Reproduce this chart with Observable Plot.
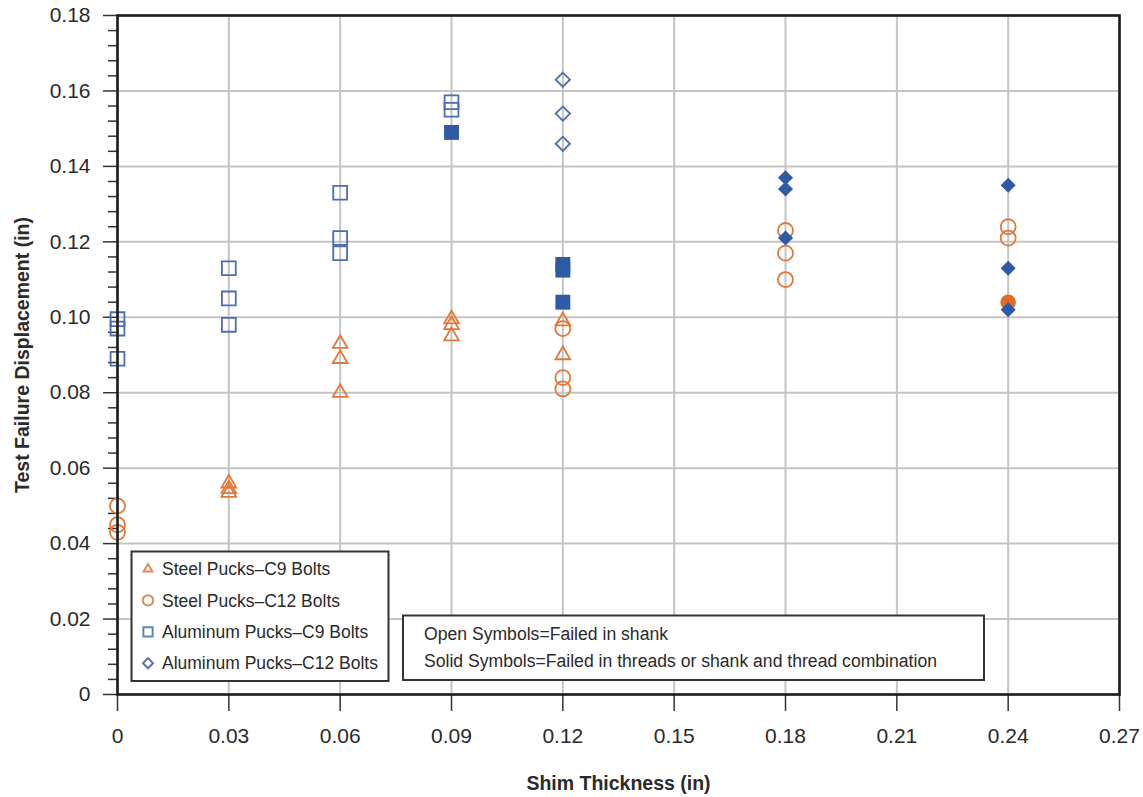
<!DOCTYPE html>
<html><head><meta charset="utf-8">
<script src="https://cdn.jsdelivr.net/npm/d3@7"></script>
<script src="https://cdn.jsdelivr.net/npm/@observablehq/plot@0.6"></script>
<style>body{margin:0;background:#fff;}</style>
</head><body><div id="chart"></div>
<script>
// ---- tick values & labels ----
const xTicks = [0, 0.03, 0.06, 0.09, 0.12, 0.15, 0.18, 0.21, 0.24, 0.27];
const xTickLabels = ["0", "0.03", "0.06", "0.09", "0.12", "0.15", "0.18", "0.21", "0.24", "0.27"];
const yTicks = [0, 0.02, 0.04, 0.06, 0.08, 0.10, 0.12, 0.14, 0.16, 0.18];
const yTickLabels = ["0", "0.02", "0.04", "0.06", "0.08", "0.10", "0.12", "0.14", "0.16", "0.18"];
const yMinorPerMajor = 5;

// ---- series (rows: [shim thickness, displacement, solid?]) ----
const seriesNames = ["Steel Pucks\u2013C9 Bolts", "Steel Pucks\u2013C12 Bolts", "Aluminum Pucks\u2013C9 Bolts", "Aluminum Pucks\u2013C12 Bolts"];
const steelC9 = [
  [0.03, 0.056, 0], [0.03, 0.0545, 0], [0.03, 0.0535, 0],
  [0.06, 0.093, 0], [0.06, 0.089, 0], [0.06, 0.080, 0],
  [0.09, 0.0995, 0], [0.09, 0.098, 0], [0.09, 0.095, 0],
  [0.12, 0.099, 0], [0.12, 0.090, 0]
];
const steelC12 = [
  [0, 0.050, 0], [0, 0.045, 0], [0, 0.043, 0],
  [0.12, 0.097, 0], [0.12, 0.084, 0], [0.12, 0.081, 0],
  [0.18, 0.123, 0], [0.18, 0.117, 0], [0.18, 0.110, 0],
  [0.24, 0.124, 0], [0.24, 0.121, 0], [0.24, 0.104, 1]
];
const aluminumC9 = [
  [0, 0.0995, 0], [0, 0.097, 0], [0, 0.089, 0],
  [0.03, 0.113, 0], [0.03, 0.105, 0], [0.03, 0.098, 0],
  [0.06, 0.133, 0], [0.06, 0.121, 0], [0.06, 0.117, 0],
  [0.09, 0.157, 0], [0.09, 0.155, 0], [0.09, 0.149, 1],
  [0.12, 0.114, 1], [0.12, 0.1125, 1], [0.12, 0.104, 1]
];
const aluminumC12 = [
  [0.12, 0.163, 0], [0.12, 0.154, 0], [0.12, 0.146, 0],
  [0.18, 0.137, 1], [0.18, 0.134, 1], [0.18, 0.121, 1],
  [0.24, 0.135, 1], [0.24, 0.113, 1], [0.24, 0.102, 1]
];
const noteLines = ["Open Symbols=Failed in shank", "Solid Symbols=Failed in threads or shank and thread combination"];

// ---- styles ----
const ORANGE_OPEN = "#E2773A", ORANGE_SOLID = "#E06B27";
const BLUE_OPEN = "#4A6DB3", BLUE_SOLID = "#2F5AA6";
const styles = [
  {data: steelC9, open: "triangle2", solid: "triangle", rOpen: 7, rSolid: 7, so: ORANGE_OPEN, sf: ORANGE_SOLID},
  {data: steelC12, open: "circle", solid: "circle", rOpen: 7.5, rSolid: 7.8, so: ORANGE_OPEN, sf: ORANGE_SOLID},
  {data: aluminumC9, open: "square2", solid: "square", rOpen: 8.8, rSolid: 8.4, so: BLUE_OPEN, sf: BLUE_SOLID},
  {data: aluminumC12, open: "diamond2", solid: "diamond2", rOpen: 6.4, rSolid: 6.8, so: BLUE_OPEN, sf: BLUE_SOLID}
];

const yMinor = [];
for (let i = 0; i < yTicks.length - 1; i++) {
  const a = yTicks[i], b = yTicks[i + 1];
  for (let k = 1; k < yMinorPerMajor; k++) yMinor.push(a + (b - a) * k / yMinorPerMajor);
}

const dotMarks = [];
styles.forEach(s => {
  const rows = s.data.map(([x, y, solid]) => ({x, y, solid}));
  dotMarks.push(Plot.dot(rows.filter(d => !d.solid), {x: "x", y: "y", symbol: s.open, r: s.rOpen, fill: "none", stroke: s.so, strokeWidth: 1.8}));
  dotMarks.push(Plot.dot(rows.filter(d => d.solid), {x: "x", y: "y", symbol: s.solid, r: s.rSolid, fill: s.sf, stroke: "none"}));
});

const FONT = "'Liberation Sans', Arial, Helvetica, sans-serif";
const chart = Plot.plot({
  width: 1143,
  height: 797,
  marginLeft: 117,
  marginRight: 24,
  marginTop: 15,
  marginBottom: 103,
  style: {fontFamily: FONT, background: "#fff", color: "#2a2a2a"},
  x: {domain: [0, 0.27]},
  y: {domain: [0, 0.18]},
  marks: [
    Plot.gridX(xTicks, {stroke: "#c4c4c4", strokeWidth: 2, strokeOpacity: 1}),
    Plot.gridY(yTicks, {stroke: "#c4c4c4", strokeWidth: 2, strokeOpacity: 1}),
    Plot.axisX(xTicks, {tickSize: 17, tickPadding: 17, fontSize: 21, stroke: "#333", strokeWidth: 1.5, fill: "#2a2a2a",
      tickFormat: d => xTickLabels[xTicks.indexOf(d)], label: null}),
    Plot.axisY(yTicks, {tickSize: 14, tickPadding: 13, fontSize: 21, stroke: "#333", strokeWidth: 1.5, fill: "#2a2a2a",
      tickFormat: d => yTickLabels[yTicks.indexOf(d)], label: null}),
    Plot.axisY(yMinor, {tickSize: 9, tickFormat: () => "", stroke: "#333", strokeWidth: 1.5, label: null}),
    ...dotMarks,
    Plot.frame({stroke: "#1c1c1c", strokeWidth: 2.6}),
    Plot.text(["Shim Thickness (in)"], {frameAnchor: "bottom", dy: 89, lineAnchor: "middle", textAnchor: "middle", fontSize: 19.5, fontWeight: "bold", fill: "#2a2a2a"}),
    Plot.text(["Test Failure Displacement (in)"], {frameAnchor: "left", dx: -95, rotate: -90, lineAnchor: "middle", textAnchor: "middle", fontSize: 19.5, fontWeight: "bold", fill: "#2a2a2a"})
  ]
});
document.getElementById("chart").appendChild(chart);

// ---- legend & note boxes ----
const svg = d3.select(chart);
const leg = svg.append("g").attr("font-family", FONT).attr("text-anchor", "start");
leg.append("rect").attr("x", 131.5).attr("y", 551.5).attr("width", 257).attr("height", 129.5)
  .attr("fill", "#fff").attr("stroke", "#333").attr("stroke-width", 2);
const legSym = [
  {sym: d3.symbolTriangle2, size: 55, c: "#E08A5A"},
  {sym: d3.symbolCircle, size: 85, c: "#E08A5A"},
  {sym: d3.symbolSquare2, size: 110, c: "#6482C0"},
  {sym: d3.symbolDiamond2, size: 65, c: "#5674B8"}
];
seriesNames.forEach((name, i) => {
  const cy = 569 + i * 31.4;
  leg.append("path").attr("d", d3.symbol(legSym[i].sym, legSym[i].size)())
    .attr("transform", `translate(148,${cy})`).attr("fill", "none").attr("stroke", legSym[i].c).attr("stroke-width", 2);
  leg.append("text").attr("x", 162).attr("y", cy).attr("dy", "0.35em").attr("font-size", 17.5).attr("fill", "#2a2a2a").text(name);
});
const note = svg.append("g").attr("font-family", FONT).attr("text-anchor", "start");
note.append("rect").attr("x", 403).attr("y", 615.5).attr("width", 581).attr("height", 64.5)
  .attr("fill", "#fff").attr("stroke", "#333").attr("stroke-width", 2);
noteLines.forEach((t, i) => {
  note.append("text").attr("x", 424).attr("y", 634 + i * 27).attr("dy", "0.35em").attr("font-size", 17.6).attr("fill", "#2a2a2a").text(t);
});
</script>
</body></html>
